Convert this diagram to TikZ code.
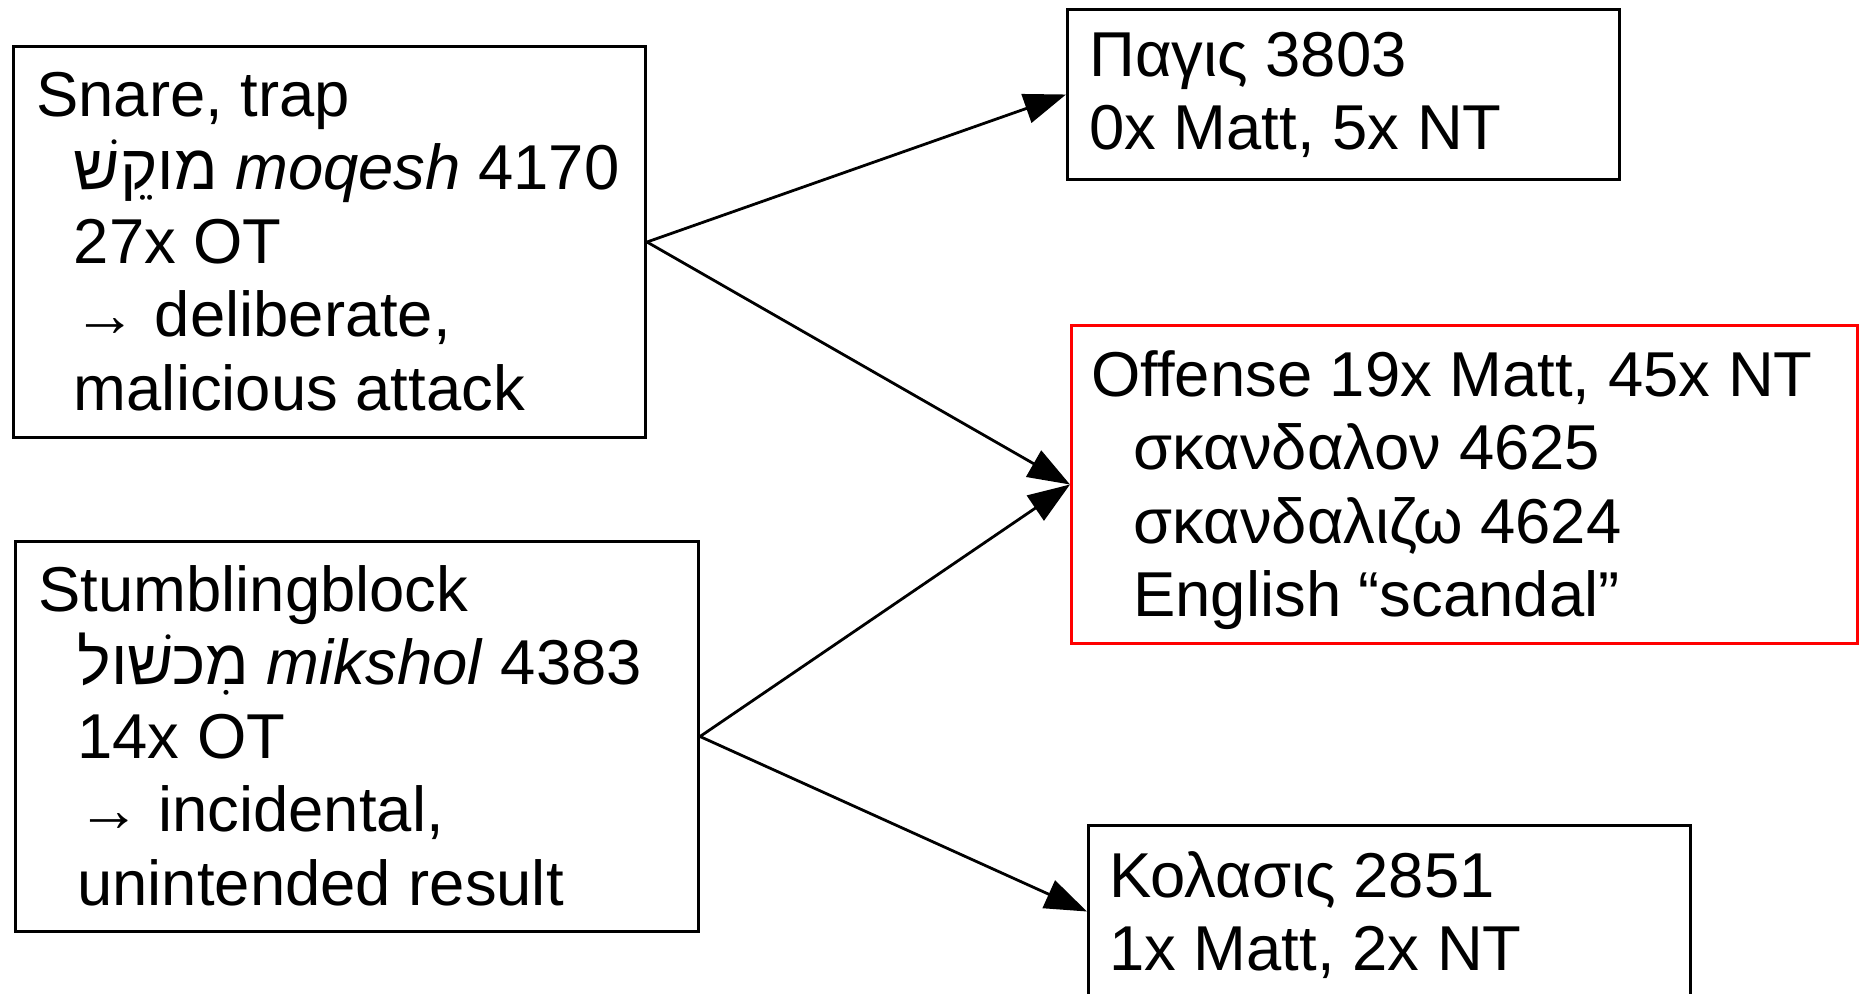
\documentclass[tikz,border=0pt]{standalone}
\usepackage{fontspec}
\setmainfont{Liberation Sans}
\newfontfamily\hebfont[Script=Hebrew]{Liberation Sans}
\TeXXeTstate=1
\usetikzlibrary{arrows.meta}
\begin{document}
\begin{tikzpicture}[x=0.5pt,y=-0.5pt,
  box/.style={draw, line width=1.5pt, inner sep=0pt, anchor=north west},
  txt/.style={anchor=base west, inner sep=0pt, align=left, font=\fontsize{31.7}{36.75}\selectfont},
  arr/.style={line width=1.4pt, -{Triangle[length=21pt,width=15pt]}}]
\useasboundingbox (0,0) rectangle (1860,993);
% boxes
\node[box, minimum width=316pt, minimum height=195.5pt] (A) at (12,45) {};
\node[box, minimum width=341.5pt, minimum height=195pt] (B) at (14,540) {};
\node[box, minimum width=276pt, minimum height=85pt] (C) at (1066,8) {};
\node[box, draw=red, minimum width=393pt, minimum height=159pt] (D) at (1070,324) {};
\node[box, minimum width=301pt, minimum height=86pt] (E) at (1087,824) {};
% texts (anchor = baseline of last line)
\node[txt] (At) at (36,410) {Snare, trap\\
\hspace*{18.75pt}{\hebfont\beginR מוקֵשׁ\endR} \textit{moqesh} 4170\\
\hspace*{18.75pt}27x OT\\
\hspace*{18.75pt}→ deliberate,\\
\hspace*{18.75pt}malicious attack};
\node[txt] (Bt) at (38,905) {Stumblingblock\\
\hspace*{19.5pt}{\hebfont\beginR מִכשׁול\endR} \textit{mikshol} 4383\\
\hspace*{19.5pt}14x OT\\
\hspace*{19.5pt}→ incidental,\\
\hspace*{19.5pt}unintended result};
\node[txt] (Ct) at (1089,149.5) {Παγις 3803\\0x Matt, 5x NT};
\node[txt] (Dt) at (1091,616.5) {Offense 19x Matt, 45x NT\\
\hspace*{21pt}σκανδαλον 4625\\
\hspace*{21pt}σκανδαλιζω 4624\\
\hspace*{21pt}English “scandal”};
\node[txt] (Et) at (1109,970.5) {Κολασις 2851\\1x Matt, 2x NT};
% connectors
\draw[arr] (A.east) -- (C.west);
\draw[arr] (A.east) -- (D.west);
\draw[arr] (B.east) -- (D.west);
\draw[arr] (B.east) -- (E.west);
\end{tikzpicture}
\end{document}
